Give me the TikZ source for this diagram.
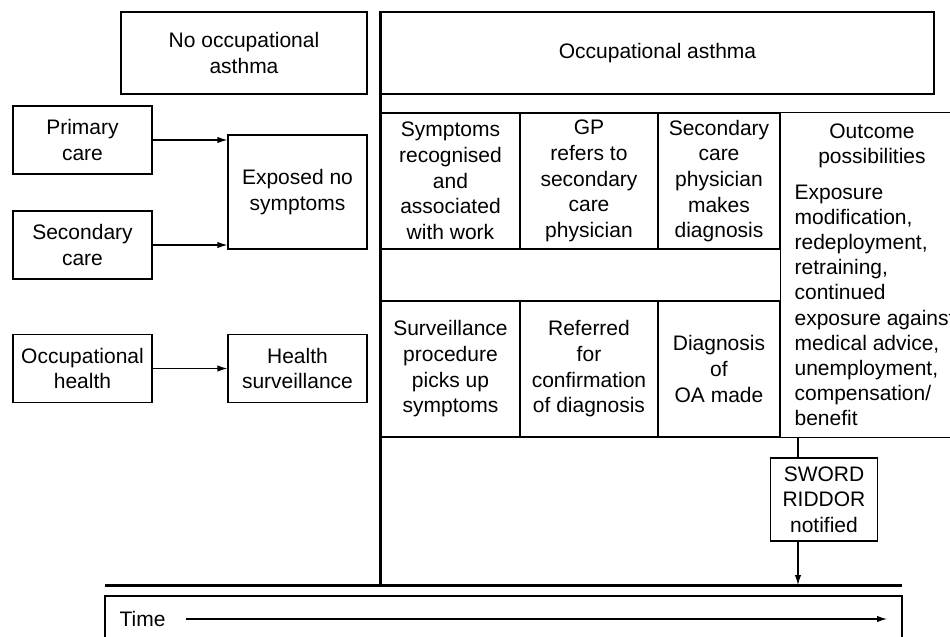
\documentclass[tikz,border=0pt]{standalone}
\usepackage{fontspec}
\setmainfont{Liberation Sans}
\usetikzlibrary{arrows.meta,positioning}
\tikzset{
	>={Latex[length=5pt,width=3.2pt]},
	every node/.style={font=\fontsize{10.5}{12.85}\selectfont, align=center},
	every path/.style={line width=0.6pt},
	box/.style={draw, inner sep=0pt},
	side box/.style={box, minimum width=69.5pt, minimum height=34pt},
	cell/.style={box, minimum height=68pt},
	heavy/.style={line width=1.5pt},
}

\begin{document}
\begin{tikzpicture}[x=0.5pt,y=-0.5pt]
	\useasboundingbox (0,0) rectangle (950,637);
	% Headers
	\node[box, minimum width=123pt, minimum height=41pt] (No OA) at (244,53) {No occupational\\asthma};
	\node[box, minimum width=276.5pt, minimum height=41pt] (OA) at (657.5,53) {Occupational asthma};

	% Left side
	\node[side box] (Primary care) at (82.5,140) {Primary\\care};
	\node[side box] (Secondary care) at (82.5,245) {Secondary\\care};
	\node[side box] (Occupational health) at (82.5,368.5) {Occupational\\health};
	\node[side box, minimum height=57pt] (Exposed) at (297.5,192) {Exposed no\\symptoms};
	\node[side box] (Health surveillance) at (297.5,368.5) {Health\\surveillance};

	% Grid
	\node[cell, minimum width=69.5pt] (Symptoms) at (450.5,181) {Symptoms\\recognised\\and\\associated\\with work};
	\node[cell, minimum width=69pt] (GP refers) at (589,181) {GP\\refers to\\secondary\\care\\physician};
	\node[cell, minimum width=61pt] (Diagnosis) at (719,181) {Secondary\\care\\physician\\makes\\diagnosis};
	\node[cell, minimum width=69.5pt] (Surveillance) at (450.5,369) {Surveillance\\procedure\\picks up\\symptoms};
	\node[cell, minimum width=69pt] (Referred) at (589,369) {Referred\\for\\confirmation\\of diagnosis};
	\node[cell, minimum width=61pt] (OA made) at (719,369) {Diagnosis\\of\\OA made};

	\draw (Symptoms.north west) to (Symptoms.north west -| 960,0);
	\draw (Surveillance.south west) to (Surveillance.south west -| 960,0);
	\draw (Diagnosis.north east) to (OA made.south east);
	\node[anchor=north, inner sep=0pt] (Outcome) at (872,123) {Outcome\\possibilities};
	\node[anchor=north west, inner sep=0pt, align=left, font=\fontsize{10.5}{12.6}\selectfont] (Outcome list) at (794,184)
	{Exposure\\modification,\\redeployment,\\retraining,\\continued\\exposure against\\medical advice,\\unemployment,\\compensation/\\benefit};

	\node[box, minimum width=53.8pt, minimum height=41.5pt] (SWORD) at (824,499.5) {SWORD\\RIDDOR\\notified};

	% Time line
	\coordinate (Outcome foot) at (798,437);
	\coordinate (Notify) at (798,585);
	\coordinate (Time start) at (105,585);
	\coordinate (Time end) at (902,585);
	\coordinate (Time arrow) at (887,619);
	\draw (105,596) rectangle (902,660);
	\node[anchor=west, inner sep=0pt] (Time) at (119,619) {Time};

	\draw[->,draw=black] (Primary care.east) to (Primary care.east -| Exposed.west);
	\draw[->,draw=black] (Secondary care.east) to (Secondary care.east -| Exposed.west);
	\draw[->,draw=black] (Occupational health) to (Health surveillance);
	\draw[-,draw=black] (Outcome foot) to (Outcome foot |- SWORD.north);
	\draw[->,draw=black] (Outcome foot |- SWORD.south) to (Notify);
	\draw[->,draw=black] ([xshift=10pt]Time.east) to (Time arrow);
	\draw[heavy] (OA.north west) to (OA.north west |- Time start);
	\draw[heavy] (Time start) to (Time end);
\end{tikzpicture}
\end{document}
